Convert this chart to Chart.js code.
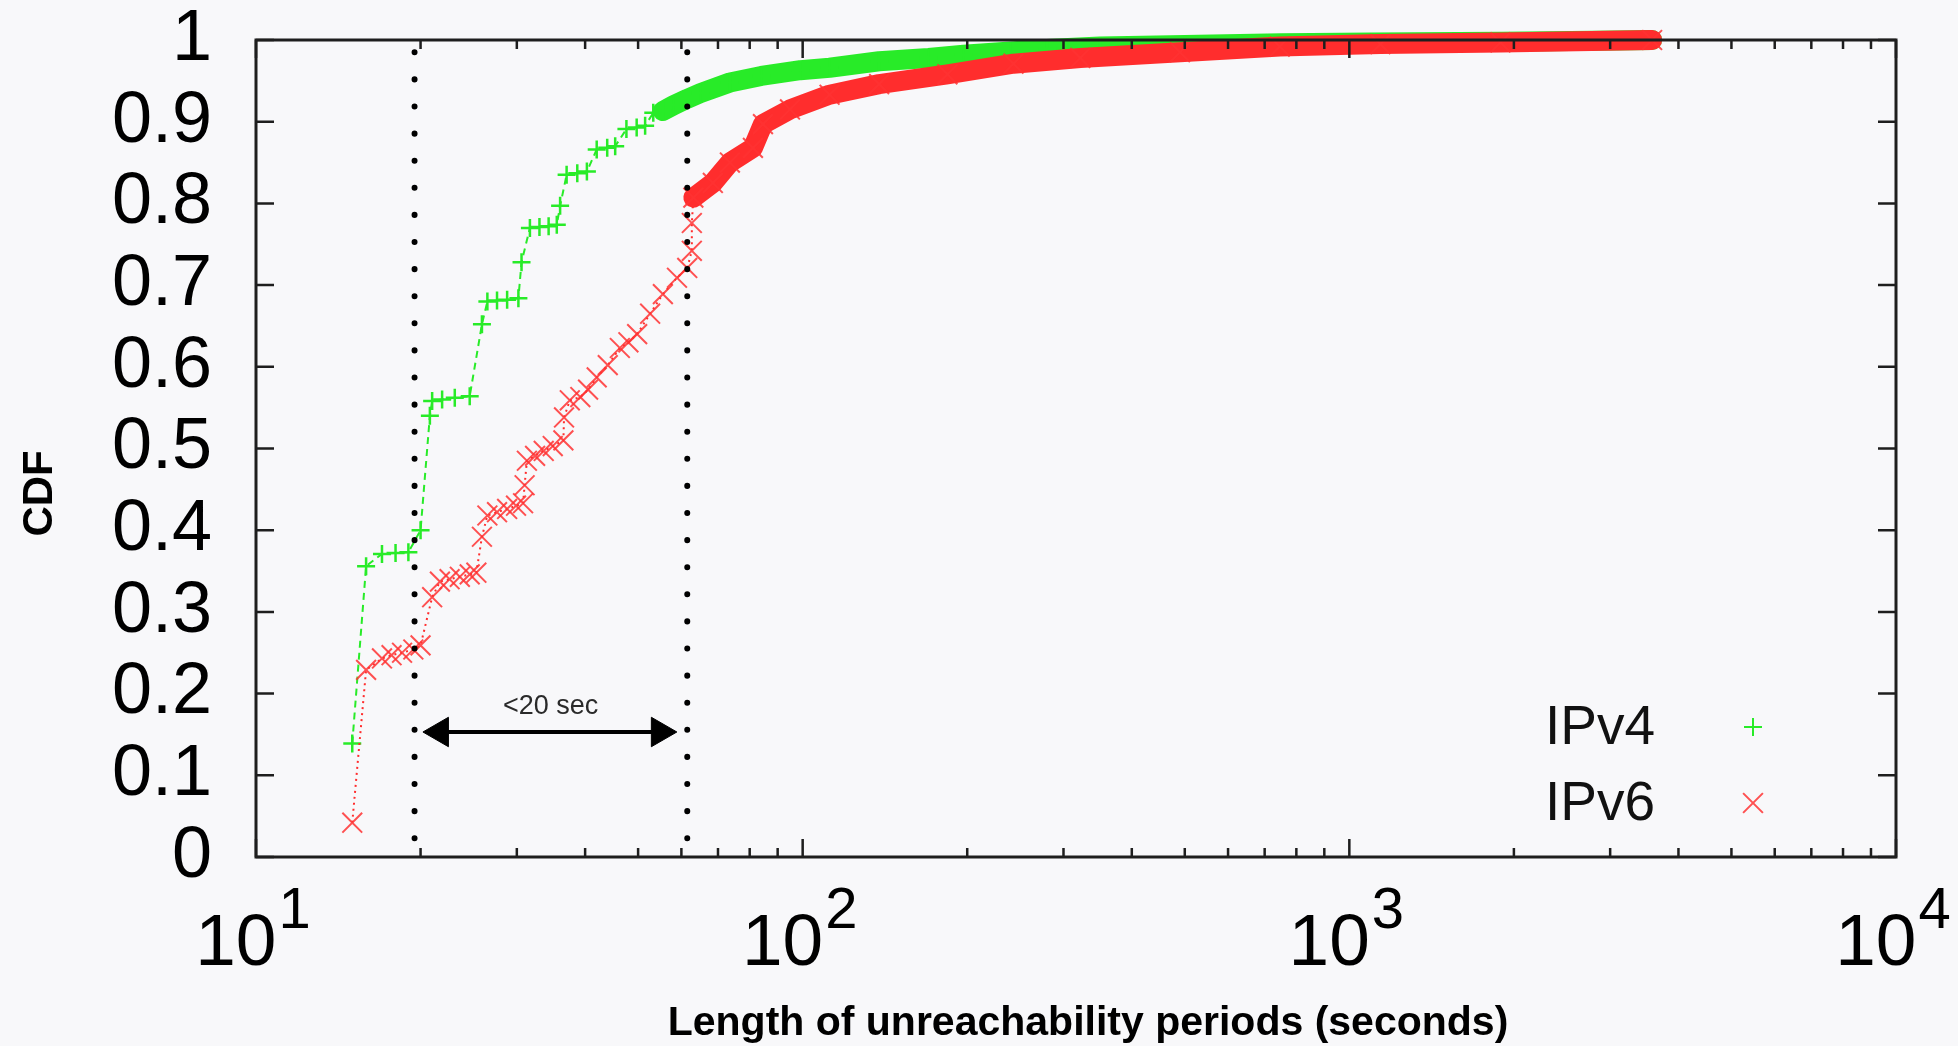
<!DOCTYPE html>
<html lang="en">
<head>
    <meta charset="UTF-8">
    <title>Length of unreachability periods - CDF</title>
    <script src="https://cdn.jsdelivr.net/npm/chart.js@4"></script>
    <style>
        html, body {
            margin: 0;
            padding: 0;
            background-color: #f8f8fa;
        }
        #wrap {
            width: 1958px;
            height: 1046px;
            position: relative;
        }
    </style>
</head>
<body>
    <div id="wrap"><canvas id="cdfChart"></canvas></div>

    <script>
        // IPv4 unreachability periods: length (s) and cumulative fraction
        const ipv4X = [15.0, 15.9, 17.0, 18.0, 19.0, 20.0, 20.8, 21.0, 21.9, 23.1, 24.6, 25.9, 26.5, 27.6, 28.8, 30.2,
            30.6, 31.7, 33.0, 34.3, 35.5, 36.0, 37.0, 38.7, 40.3, 42.0, 43.9, 45.4, 47.6, 49.7, 51.5, 53.3, 55.5, 58.0,
            61.5, 65, 73.6, 84, 99, 112, 138, 170, 197, 240, 280, 350, 500, 750, 1100, 1900, 2800, 3580];
        const ipv4Y = [0.139, 0.356, 0.371, 0.372, 0.373, 0.400, 0.540, 0.558, 0.560, 0.562, 0.564, 0.652, 0.680, 0.681,
            0.682, 0.684, 0.728, 0.770, 0.771, 0.772, 0.774, 0.797, 0.835, 0.837, 0.839, 0.866, 0.868, 0.870, 0.891, 0.893,
            0.895, 0.911, 0.913, 0.920, 0.928, 0.935, 0.948, 0.956, 0.963, 0.966, 0.974, 0.978, 0.982, 0.986, 0.989, 0.992,
            0.994, 0.996, 0.997, 0.998, 0.999, 1.0];

        // IPv6
        const ipv6X = [15.0, 15.9, 17.0, 17.7, 18.5, 19.4, 20.0, 21.0, 21.7, 22.6, 23.6, 24.6, 25.3, 25.9, 26.5, 27.6,
            28.8, 29.9, 30.8, 31.0, 31.3, 32.4, 33.6, 34.9, 36.5, 36.6, 37.5, 39.2, 40.5, 42.0, 44.0, 46.3, 48.0, 49.8,
            52.6, 55.5, 58.9, 61.5, 62.7, 62.7, 63.1, 68.5, 73.6, 81.1, 84.6, 94.8, 112, 138, 184, 243, 322, 490, 746,
            1140, 1890, 3580];
        const ipv6Y = [0.042, 0.229, 0.243, 0.247, 0.250, 0.254, 0.259, 0.318, 0.337, 0.340, 0.343, 0.346, 0.348, 0.392,
            0.418, 0.422, 0.426, 0.430, 0.433, 0.455, 0.485, 0.491, 0.497, 0.503, 0.510, 0.538, 0.559, 0.563, 0.572, 0.587,
            0.602, 0.623, 0.630, 0.640, 0.665, 0.689, 0.709, 0.721, 0.742, 0.776, 0.807, 0.825, 0.850, 0.868, 0.897, 0.915,
            0.933, 0.946, 0.958, 0.971, 0.978, 0.985, 0.992, 0.995, 0.997, 1.0];

        const seriesLabels = ['IPv4', 'IPv6'];
        const xDecades = [1, 2, 3, 4];          // x tick labels 10^1 .. 10^4
        const minorSteps = [2, 3, 4, 5, 6, 7, 8, 9];
        const guideX = [19.5, 61.5];            // dotted marker lines
        const spanArrowX = [21.7, 54.8];
        const spanArrowY = 0.153;
        const spanLabel = '<20 sec';
        const spanLabelAt = [34.6, 0.184];
        const xTitle = 'Length of unreachability periods (seconds)';
        const yTitle = 'CDF';

        const FONT = '"Liberation Sans", Arial, Helvetica, sans-serif';
        const GREEN = 'rgb(40, 235, 40)';
        const RED = 'rgb(255, 45, 45)';

        function toPoints(xs, ys) {
            return xs.map((x, i) => ({ x: x, y: ys[i] }));
        }

        // tick marks on all four sides, frame, titles, x labels with exponents
        const framePlugin = {
            id: 'frame',
            afterDatasetsDraw(chart) {
                const { ctx, chartArea: a, scales } = chart;
                const xs = scales.x, ys = scales.y;
                ctx.save();
                ctx.strokeStyle = '#1e1e1e';
                ctx.lineWidth = 2.5;
                ctx.beginPath();
                xDecades.forEach(k => {
                    const vals = [Math.pow(10, k)];
                    if (k < 4) minorSteps.forEach(m => vals.push(m * Math.pow(10, k)));
                    vals.forEach((v, i) => {
                        const px = xs.getPixelForValue(v);
                        const len = i === 0 ? 18 : 9;
                        ctx.moveTo(px, a.bottom); ctx.lineTo(px, a.bottom - len);
                        ctx.moveTo(px, a.top); ctx.lineTo(px, a.top + len);
                    });
                });
                ys.ticks.forEach(t => {
                    const py = ys.getPixelForValue(t.value);
                    ctx.moveTo(a.left, py); ctx.lineTo(a.left + 18, py);
                    ctx.moveTo(a.right, py); ctx.lineTo(a.right - 18, py);
                });
                ctx.stroke();
                ctx.lineWidth = 3;
                ctx.strokeRect(a.left, a.top, a.right - a.left, a.bottom - a.top);
                ctx.restore();
            },
            afterDraw(chart) {
                const { ctx, chartArea: a, scales } = chart;
                const xs = scales.x, ys = scales.y;
                ctx.save();
                ctx.fillStyle = '#000';
                ctx.textBaseline = 'alphabetic';
                ctx.textAlign = 'left';

                // x tick labels: 10 with superscript exponent
                xDecades.forEach(k => {
                    const px = xs.getPixelForValue(Math.pow(10, k));
                    ctx.font = '73px ' + FONT;
                    const wBase = ctx.measureText('10').width;
                    ctx.font = '58px ' + FONT;
                    const wExp = ctx.measureText(String(k)).width;
                    const x0 = px - (wBase + 2 + wExp) / 2 - 3;
                    ctx.font = '73px ' + FONT;
                    ctx.fillText('10', x0, a.bottom + 108);
                    ctx.font = '58px ' + FONT;
                    ctx.fillText(String(k), x0 + wBase + 2, a.bottom + 71);
                });

                // axis titles
                ctx.textAlign = 'center';
                ctx.textBaseline = 'middle';
                ctx.font = 'bold 41px ' + FONT;
                ctx.fillText(xTitle, (a.left + a.right) / 2 + 12, a.bottom + 167);
                ctx.save();
                ctx.translate(40, ys.getPixelForValue(0.445));
                ctx.rotate(-Math.PI / 2);
                ctx.font = 'bold 42px ' + FONT;
                ctx.fillText(yTitle, 0, 0);
                ctx.restore();

                // span annotation text
                ctx.font = '27px ' + FONT;
                ctx.fillStyle = '#2a2a2a';
                ctx.fillText(spanLabel, xs.getPixelForValue(spanLabelAt[0]), ys.getPixelForValue(spanLabelAt[1]));

                // legend: text left, marker right
                const ds = chart.data.datasets;
                const rows = [a.bottom - 130, a.bottom - 54];
                seriesLabels.forEach((lab, i) => {
                    ctx.fillStyle = '#111';
                    ctx.textAlign = 'left';
                    ctx.font = '55px ' + FONT;
                    ctx.fillText(lab, a.right - 351, rows[i] + 2);
                    ctx.strokeStyle = ds[i].pointBorderColor;
                    Chart.helpers.drawPoint(ctx, {
                        pointStyle: ds[i].pointStyle,
                        radius: i === 0 ? 9 : 14,
                        borderWidth: 2,
                        rotation: 0
                    }, a.right - 143, rows[i]);
                });
                ctx.restore();
            }
        };

        const ctx = document.getElementById('cdfChart').getContext('2d');
        const cdfChart = new Chart(ctx, {
            type: 'scatter',
            data: {
                datasets: [
                    {
                        label: seriesLabels[0],
                        data: toPoints(ipv4X, ipv4Y),
                        showLine: true,
                        order: 2,
                        clip: false,
                        borderColor: GREEN,
                        borderWidth: 2,
                        borderJoinStyle: 'round',
                        pointStyle: 'cross',
                        pointRadius: 9,
                        pointBorderWidth: 2.5,
                        pointBorderColor: GREEN,
                        segment: {
                            borderWidth: c => c.p0.parsed.x >= 55 ? 20 : 2,
                            borderDash: c => c.p0.parsed.x >= 55 ? [] : [7, 5],
                            borderCapStyle: c => c.p0.parsed.x >= 55 ? 'round' : 'butt'
                        }
                    },
                    {
                        label: seriesLabels[1],
                        data: toPoints(ipv6X, ipv6Y),
                        showLine: true,
                        order: 1,
                        clip: false,
                        borderColor: RED,
                        borderWidth: 2,
                        borderJoinStyle: 'round',
                        pointStyle: 'crossRot',
                        pointRadius: 14,
                        pointBorderWidth: 2,
                        pointBorderColor: 'rgba(255, 50, 50, 0.85)',
                        segment: {
                            borderWidth: c => c.p0.parsed.x >= 63 ? 20 : 2,
                            borderDash: c => c.p0.parsed.x >= 63 ? [] : [2, 4],
                            borderCapStyle: c => c.p0.parsed.x >= 63 ? 'round' : 'butt'
                        }
                    },
                    {
                        label: 'guide-lo',
                        data: [{ x: guideX[0], y: 0.985 }, { x: guideX[0], y: 0.018 }],
                        showLine: true,
                        order: 0,
                        borderColor: '#000',
                        borderWidth: 6,
                        borderCapStyle: 'round',
                        borderDash: [0.1, 27],
                        pointRadius: 0
                    },
                    {
                        label: 'guide-hi',
                        data: [{ x: guideX[1], y: 0.985 }, { x: guideX[1], y: 0.018 }],
                        showLine: true,
                        order: 0,
                        borderColor: '#000',
                        borderWidth: 6,
                        borderCapStyle: 'round',
                        borderDash: [0.1, 27],
                        pointRadius: 0
                    },
                    {
                        label: 'span',
                        data: [{ x: spanArrowX[0], y: spanArrowY }, { x: spanArrowX[1], y: spanArrowY }],
                        showLine: true,
                        order: 0,
                        borderColor: '#000',
                        borderWidth: 4,
                        pointStyle: 'triangle',
                        pointRotation: [-90, 90],
                        pointRadius: 17,
                        pointBorderWidth: 1,
                        pointBorderColor: '#000',
                        pointBackgroundColor: '#000'
                    }
                ]
            },
            options: {
                responsive: true,
                maintainAspectRatio: false,
                animation: false,
                events: [],
                layout: { padding: { top: 40, right: 62, left: 0, bottom: 0 } },
                plugins: {
                    legend: { display: false },
                    tooltip: { enabled: false }
                },
                scales: {
                    x: {
                        type: 'logarithmic',
                        min: 10,
                        max: 10000,
                        grid: { display: false, drawTicks: false },
                        border: { display: false },
                        ticks: { display: false },
                        afterFit: s => {
                            s.height = 189;
                            s.paddingLeft = 0; s.paddingRight = 0;
                        }
                    },
                    y: {
                        min: 0,
                        max: 1,
                        grid: { display: false, drawTicks: false },
                        border: { display: false },
                        ticks: {
                            stepSize: 0.1,
                            padding: 44,
                            color: '#000',
                            font: { family: FONT, size: 72, lineHeight: 1 },
                            callback: v => String(+v.toFixed(1))
                        },
                        afterFit: s => {
                            s.width = 256;
                            s.paddingTop = 0; s.paddingBottom = 0;
                        }
                    }
                }
            },
            plugins: [framePlugin]
        });
    </script>
</body>
</html>
